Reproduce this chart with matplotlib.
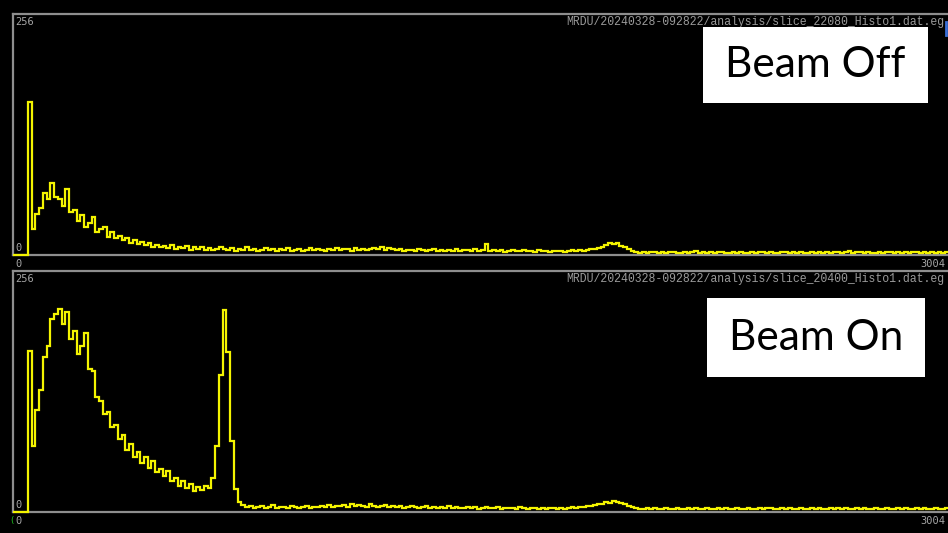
import numpy as np
import matplotlib
matplotlib.use("Agg")
import matplotlib.pyplot as plt
from matplotlib.patches import Rectangle
from matplotlib.lines import Line2D

# histogram counts, 12 channels per bin, channels 0..3004
bin_width = 12
x_max = 3004
y_max = 256

# beam off spectrum
top_counts = [
    0, 0, 0, 0, 162, 28, 44, 50, 66, 60, 76, 62, 60, 52, 70, 46, 48, 36, 42, 30,
    34, 40, 24, 28, 30, 19, 24, 18, 20, 16, 18, 13, 16, 12, 14, 11, 13, 9, 11, 8,
    10, 7, 11, 6, 9, 7, 10, 5, 8, 6, 9, 5, 7, 5, 6, 8,
    6, 5, 7, 4, 6, 5, 8, 5, 6, 4,
    5, 7, 5, 6, 4, 6, 5, 7, 4, 5,
    6, 4, 5, 7, 5, 6, 5, 4, 6, 5,
    7, 5, 6, 6, 4, 7, 5, 6, 5, 6,
    7, 6, 8, 5, 7, 6, 5, 6, 4, 5,
    5, 4, 6, 5, 4, 5, 6, 4, 5, 4,
    5, 4, 6, 4, 5, 5, 4, 6, 4, 5,
    12, 4, 5, 4, 5, 3, 4, 5, 4, 4,
    5, 4, 4, 3, 5, 4, 4, 3, 4, 4,
    4, 3, 4, 5, 4, 5, 4, 5, 6,
    6, 7, 9, 11, 13, 12, 13, 10, 8, 6, 4,
    3, 2, 3, 2, 3, 3, 2, 3, 2, 3,
    3, 2, 2, 3, 2, 3, 4, 2, 3, 2,
    3, 2, 3, 3, 2, 2, 3, 2, 3, 2,
    2, 3, 2, 3, 3, 2, 3, 2, 2, 3,
    3, 2, 3, 2, 3, 2, 2, 3, 2, 3,
    2, 3, 2, 3, 3, 2, 3, 4, 2, 3,
    3, 2, 3, 2, 2, 3, 2, 3, 3, 2,
    3, 2, 3, 2, 3, 3, 2, 3, 2, 3,
    2, 3, 2, 3, 3,
]

# beam on spectrum
bottom_counts = [
    0, 0, 0, 0, 171, 70, 108, 130, 165, 176, 205, 210, 216, 200, 212, 184, 192, 168, 176, 190,
    152, 150, 122, 118, 104, 106, 90, 92, 78, 82, 66, 72, 58, 64, 52, 58, 47, 54, 42, 46,
    38, 44, 33, 36, 28, 33, 25, 30, 22, 27, 23, 28, 26, 36, 70, 145, 215, 170, 75, 24,
    11, 7,
    5, 6, 4, 5, 6, 4, 5, 7, 4, 5,
    5, 4, 6, 5, 4, 5, 6, 4, 5, 5,
    6, 5, 7, 5, 6, 6, 7, 5, 8, 6,
    7, 6, 5, 8, 6, 5, 6, 7, 5, 6,
    5, 6, 4, 5, 6, 5, 4, 5, 6, 4,
    5, 4, 5, 4, 6, 4, 5, 4, 4, 5,
    4, 5, 3, 4, 5, 4, 4, 5, 3, 4,
    4, 4, 3, 5, 4, 3, 4, 4, 3, 4,
    3, 4, 4, 3, 4, 3, 4, 5, 4, 5,
    5, 6, 6, 7, 8,
    9, 11, 10, 12, 11, 10, 8, 6, 5,
    4, 3, 3, 4, 3, 4, 3, 3, 4, 3,
    3, 4, 3, 3, 4, 3, 4, 3, 3, 4,
    3, 3, 4, 3, 4, 3, 3, 4, 3, 3,
    4, 3, 3, 4, 3, 4, 4, 3, 3, 4,
    3, 4, 3, 3, 4, 3, 3, 4, 3, 4,
    3, 3, 4, 3, 4, 3, 4, 3, 3, 4,
    3, 4, 3, 3, 4, 3, 3, 4, 3, 3,
    4, 3, 4, 3, 3, 4, 3, 4, 3, 3,
    4, 3, 3, 4, 3,
]

file_names = [
    "MRDU/20240328-092822/analysis/slice_22080_Histo1.dat.eg",
    "MRDU/20240328-092822/analysis/slice_20400_Histo1.dat.eg",
]
labels = ["Beam Off", "Beam On"]

W, H = 948, 533
fig = plt.figure(figsize=(W / 100, H / 100), dpi=100, facecolor="black")

frame = "#8e8e8e"
txt_gray = "#a6a6a6"
yellow = "#f4f400"

# panel pixel boxes: left, top, right, bottom
panels = [(13, 14, 950, 255), (13, 271, 950, 512)]
label_boxes = [(703, 27, 928, 103), (707, 298, 925, 377)]

for k, counts in enumerate([top_counts, bottom_counts]):
    l, t, r, b = panels[k]
    ax = fig.add_axes([l / W, 1 - b / H, (r - l) / W, (b - t) / H])
    ax.set_facecolor("black")
    edges = np.arange(len(counts) + 1) * bin_width
    ax.stairs(counts, edges, color=yellow, lw=1.6, baseline=None,
              zorder=3, clip_on=False)
    ax.set_xlim(0, x_max)
    ax.set_ylim(0, y_max)
    ax.set_xticks([])
    ax.set_yticks([])
    for s in ["top", "left", "bottom"]:
        ax.spines[s].set_color(frame)
        ax.spines[s].set_linewidth(1.6)
    ax.spines["right"].set_visible(False)

    h = b - t
    mono = dict(family="DejaVu Sans Mono", color=txt_gray, fontsize=7.5)
    ax.text(2 / (r - l), 1 - 8 / h, str(y_max), va="center", ha="left",
            transform=ax.transAxes, **mono)
    ax.text(2 / (r - l), 7 / h, "0", va="center", ha="left",
            transform=ax.transAxes, **mono)
    ax.text(2 / (r - l), -9 / h, "0", va="center", ha="left",
            transform=ax.transAxes, **mono)
    ax.text((945 - l) / (r - l), -9 / h, str(x_max), va="center", ha="right",
            transform=ax.transAxes, **mono)
    ax.text((566 - l) / (r - l), 1 - 8 / h, file_names[k], va="center",
            ha="left", transform=ax.transAxes, family="Liberation Mono",
            color="#9a9a9a", fontsize=8.3)

    bl, bt, br, bb = label_boxes[k]
    fig.patches.append(Rectangle((bl / W, 1 - bb / H), (br - bl) / W,
                                 (bb - bt) / H, transform=fig.transFigure,
                                 facecolor="white", edgecolor="none", zorder=5))
    fig.text((bl + br) / 2 / W, 1 - (bt + bb) / 2 / H, labels[k],
             ha="center", va="center", fontsize=30.5, family="Lato",
             color="black", zorder=6)

# small marks at the screen edges
fig.add_artist(Line2D([946 / W, 946 / W], [1 - 22 / H, 1 - 35 / H],
                      color="#3a6fd8", lw=2))
fig.text(10 / W, 1 - 520 / H, "(", color="#22cc22", fontsize=6,
         va="center", ha="left")

fig.savefig("out.png", dpi=100, facecolor="black")
